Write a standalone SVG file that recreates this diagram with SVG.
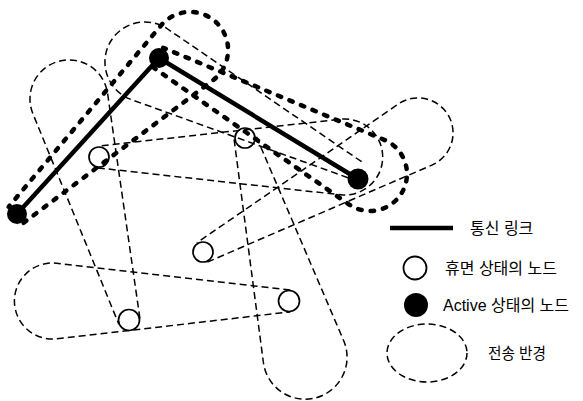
<svg xmlns="http://www.w3.org/2000/svg" width="583" height="401" viewBox="0 0 583 401">
  <style>
    .range { fill: none; stroke: #000; stroke-width: 1.5; stroke-dasharray: 7 4; }
    .beam { fill: none; stroke: #000; stroke-width: 4.5; stroke-dasharray: 3.5 9; stroke-linecap: round; }
    .link { stroke: #000; stroke-width: 4.5; stroke-linecap: round; }
    .active { fill: #000; }
    .sleep { fill: none; stroke: #000; stroke-width: 1.7; }
    .label { font-family: "Liberation Sans", "Noto Sans CJK KR", sans-serif; font-size: 16px; fill: #000; }
  </style>
  <rect width="583" height="401" fill="#fff"/>

  <!-- transmission ranges (thin dashed) -->
  <g id="ranges">
    <path class="range" d="M139.9,318.4 L107.6,93.5 A39,39 0 1 0 32.9,113.7 L118.8,324.2"/>
    <path class="range" d="M361.6,161.7 L167.6,29 A40,40 0 1 0 131.4,99.6 L352.6,179.4"/>
    <path class="range" d="M234.1,139.4 L263.4,362.5 A42,42 0 1 0 343.6,340.5 L255.1,133.7"/>
    <path class="range" d="M290.3,290.1 L56.3,263.2 A38,38 0 1 0 56.3,338.8 L290.3,311.9"/>
    <path class="range" d="M97.8,167.9 L340.8,194.8 A38,38 0 1 0 340.8,119.2 L97.8,146.1"/>
    <path class="range" d="M207.4,262.1 L431.9,165.1 A35,35 0 1 0 398.1,104.2 L196.8,242.9"/>
  </g>

  <!-- active beams (thick dashed) -->
  <g id="beams">
    <path class="beam" d="M23.6,222.8 L212.8,80.4 A38,38 0 1 0 160.9,25.6 L8.6,206.9"/>
    <path class="beam" d="M152.7,67 L348.8,204.3 A37,37 0 1 0 384.2,139.8 L163.2,47.8"/>
  </g>

  <!-- connectors: communication links -->
  <g id="connectors">
    <line class="link" x1="17" y1="214" x2="159" y2="58"/>
    <line class="link" x1="159" y1="58" x2="358" y2="179"/>
  </g>

  <!-- nodes -->
  <g id="node-a1"><circle class="active" cx="17" cy="214" r="10"/></g>
  <g id="node-a2"><circle class="active" cx="159" cy="58" r="10"/></g>
  <g id="node-a3"><circle class="active" cx="358" cy="179" r="10.5"/></g>
  <g id="node-n1"><circle class="sleep" cx="99" cy="157" r="10"/></g>
  <g id="node-n2"><circle class="sleep" cx="245" cy="138" r="10"/></g>
  <g id="node-n3"><circle class="sleep" cx="203" cy="252" r="10"/></g>
  <g id="node-n4"><circle class="sleep" cx="289" cy="301" r="10.5"/></g>
  <g id="node-n5"><circle class="sleep" cx="129" cy="320" r="10.5"/></g>

  <!-- legend -->
  <g id="legend">
    <line x1="390" y1="228" x2="453" y2="228" stroke="#000" stroke-width="4.5"/>
    <text class="label" x="470" y="234">통신 링크</text>
    <circle cx="415" cy="268" r="11.5" fill="none" stroke="#000" stroke-width="1.8"/>
    <text class="label" x="445" y="274">휴면 상태의 노드</text>
    <circle cx="416" cy="305" r="12" fill="#000"/>
    <text class="label" x="443" y="311">Active 상태의 노드</text>
    <ellipse class="range" cx="427" cy="353" rx="40" ry="29"/>
    <text class="label" x="488" y="359" textLength="58" lengthAdjust="spacingAndGlyphs">전송 반경</text>
  </g>
</svg>
